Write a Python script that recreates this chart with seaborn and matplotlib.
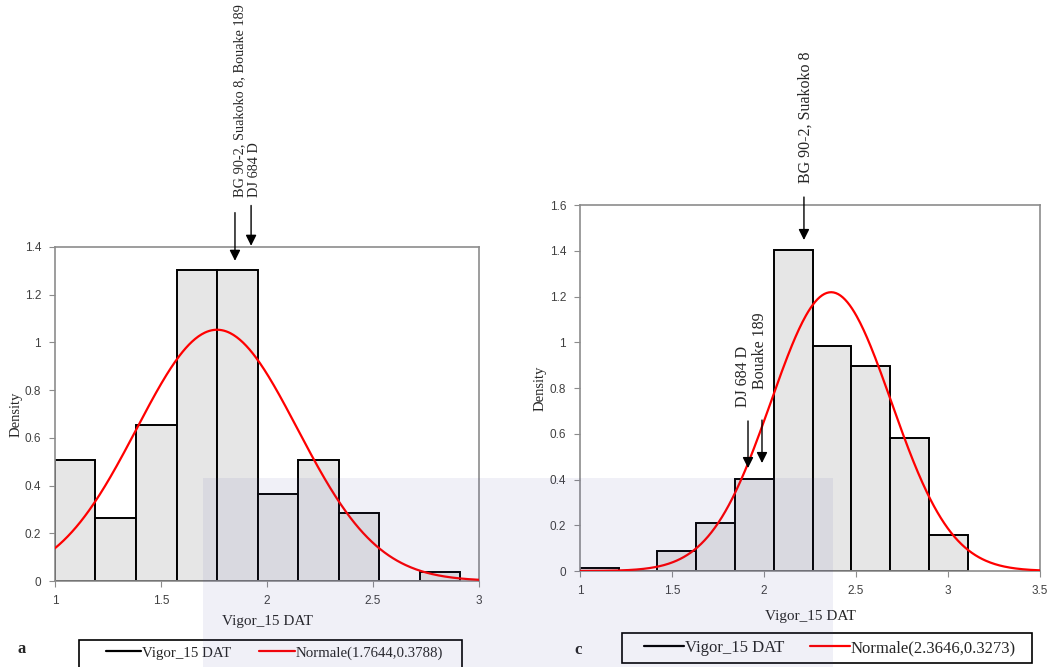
import numpy as np
import matplotlib
matplotlib.use("Agg")
import matplotlib.pyplot as plt
import seaborn as sns
from matplotlib.lines import Line2D
from matplotlib.patches import Rectangle

# ---------------- data ----------------
var_label = "Vigor_15 DAT"

# panel a
a_edges = [1.000, 1.191, 1.382, 1.574, 1.765, 1.956, 2.147, 2.338, 2.529, 2.721, 2.912]
a_density = [0.509, 0.264, 0.652, 1.304, 1.304, 0.365, 0.509, 0.285, 0.0, 0.038]
a_mu, a_sigma = 1.7644, 0.3788
a_xticks = [1, 1.5, 2, 2.5, 3]
a_yticks = [0, 0.2, 0.4, 0.6, 0.8, 1.0, 1.2, 1.4]

# panel c
c_edges = [1.000, 1.211, 1.421, 1.632, 1.843, 2.054, 2.264, 2.475, 2.686, 2.896, 3.107]
c_density = [0.015, 0.0, 0.087, 0.211, 0.402, 1.403, 0.982, 0.895, 0.580, 0.157]
c_mu, c_sigma = 2.3646, 0.3273
c_xticks = [1, 1.5, 2, 2.5, 3, 3.5]
c_yticks = [0, 0.2, 0.4, 0.6, 0.8, 1.0, 1.2, 1.4, 1.6]

# ---------------- style ----------------
sns.set_theme(style="ticks")
plt.rcParams["font.family"] = ["Liberation Sans", "DejaVu Sans"]
SERIF = ["Liberation Serif", "DejaVu Serif"]

W, H = 1053, 667
fig = plt.figure(figsize=(W / 100, H / 100), dpi=100)
axA = fig.add_axes([0.0522, 0.1289, 0.4027, 0.5008])
axC = fig.add_axes([0.5508, 0.1439, 0.4369, 0.5487])


def fmt(v):
    return f"{v:g}"


def draw(ax, edges, dens, mu, sigma, xlim, xticks, yticks):
    centers = [(edges[i] + edges[i + 1]) / 2 for i in range(len(dens))]
    sns.histplot(x=centers, weights=dens, bins=edges, stat="count",
                 color="#e6e6e6", edgecolor="black", linewidth=1.4,
                 alpha=1, ax=ax, zorder=2)
    xs = np.linspace(xlim[0], xlim[1], 400)
    pdf = np.exp(-0.5 * ((xs - mu) / sigma) ** 2) / (sigma * np.sqrt(2 * np.pi))
    sns.lineplot(x=xs, y=pdf, color="#ff0000", linewidth=1.6, ax=ax, zorder=3)
    ax.set_xlim(*xlim)
    ax.set_ylim(yticks[0], yticks[-1])
    ax.set_xticks(xticks)
    ax.set_xticklabels([fmt(v) for v in xticks])
    ax.set_yticks(yticks)
    ax.set_yticklabels([fmt(v) for v in yticks])
    for sp in ax.spines.values():
        sp.set_visible(True)
        sp.set_color("#8c8c8c")
        sp.set_linewidth(1.2)
    ax.tick_params(axis="both", direction="out", length=4, width=0.8,
                   color="#8c8c8c", labelsize=8.5, labelcolor="#404040", pad=6)
    ax.set_xlabel(var_label, fontfamily=SERIF, fontsize=11)
    ax.set_ylabel("Density", fontfamily=SERIF, fontsize=10.5)


draw(axA, a_edges, a_density, a_mu, a_sigma, (1, 3), a_xticks, a_yticks)
draw(axC, c_edges, c_density, c_mu, c_sigma, (1, 3.5), c_xticks, c_yticks)
axA.yaxis.set_label_coords(-0.076, 0.5)
axC.yaxis.set_label_coords(-0.0735, 0.5)
axA.xaxis.set_label_coords(0.5, -0.103)
axC.xaxis.set_label_coords(0.5, -0.106)


def arrow(ax, x, y0, y1):
    ax.annotate("", xy=(x, y1), xytext=(x, y0), xycoords="data",
                annotation_clip=False,
                arrowprops=dict(arrowstyle="-|>", color="black", lw=1.0,
                                mutation_scale=16, shrinkA=0, shrinkB=0))


# panel a annotations
arrow(axA, 1.849, 1.544, 1.342)
arrow(axA, 1.925, 1.574, 1.405)
axA.text(1.906, 1.608, "BG 90-2, Suakoko 8, Bouake 189\nDJ 684 D", rotation=90,
         ha="center", va="bottom", multialignment="left",
         fontfamily=SERIF, fontsize=10.3, linespacing=1.15, clip_on=False)

# panel c annotations
arrow(axC, 2.217, 1.635, 1.447)
axC.text(2.225, 1.696, "BG 90-2, Suakoko 8", rotation=90, ha="center", va="bottom",
         fontfamily=SERIF, fontsize=11.5, clip_on=False)
arrow(axC, 1.913, 0.656, 0.450)
arrow(axC, 1.989, 0.660, 0.472)
axC.text(1.888, 0.717, "DJ 684 D", rotation=90, ha="center", va="bottom",
         fontfamily=SERIF, fontsize=11.5, clip_on=False)
axC.text(1.98, 0.796, "Bouake 189", rotation=90, ha="center", va="bottom",
         fontfamily=SERIF, fontsize=11.5, clip_on=False)


# legends: content placed by legend, box drawn as a frame rectangle
def legend(label2, center, size, colsp, box):
    handles = [Line2D([], [], color="black", lw=1.6),
               Line2D([], [], color="#ff0000", lw=1.6)]
    fig.legend(handles, [var_label, label2], ncol=2,
               loc="center", bbox_to_anchor=(center[0] / W, 1 - center[1] / H),
               bbox_transform=fig.transFigure, frameon=False,
               prop={"family": SERIF, "size": size},
               handlelength=2.4, handletextpad=0.05, columnspacing=colsp,
               borderpad=0.0, borderaxespad=0.0)
    x0, y0, x1, y1 = box
    fig.patches.append(Rectangle((x0 / W, 1 - y1 / H), (x1 - x0) / W, (y1 - y0) / H,
                                 transform=fig.transFigure, facecolor="none",
                                 edgecolor="black", linewidth=1.2, zorder=5))


legend(f"Normale({a_mu},{a_sigma})", (274.5, 653), 10.7, 1.9, (79, 640, 462, 672))
legend(f"Normale({c_mu},{c_sigma})", (830, 648), 12, 1.5, (622, 633, 1032, 663))

fig.text(22 / W, 1 - 649 / H, "a", fontfamily=SERIF, fontsize=12,
         fontweight="bold", ha="center", va="center")
fig.text(578 / W, 1 - 650 / H, "c", fontfamily=SERIF, fontsize=12,
         fontweight="bold", ha="center", va="center")

# faint watermark tint from the source scan
fig.patches.append(Rectangle((203 / W, 0), (833 - 203) / W, 1 - 478 / H,
                             transform=fig.transFigure, facecolor="#4a4aa0",
                             alpha=0.08, edgecolor="none", zorder=10))

fig.savefig("out.png", dpi=100)
